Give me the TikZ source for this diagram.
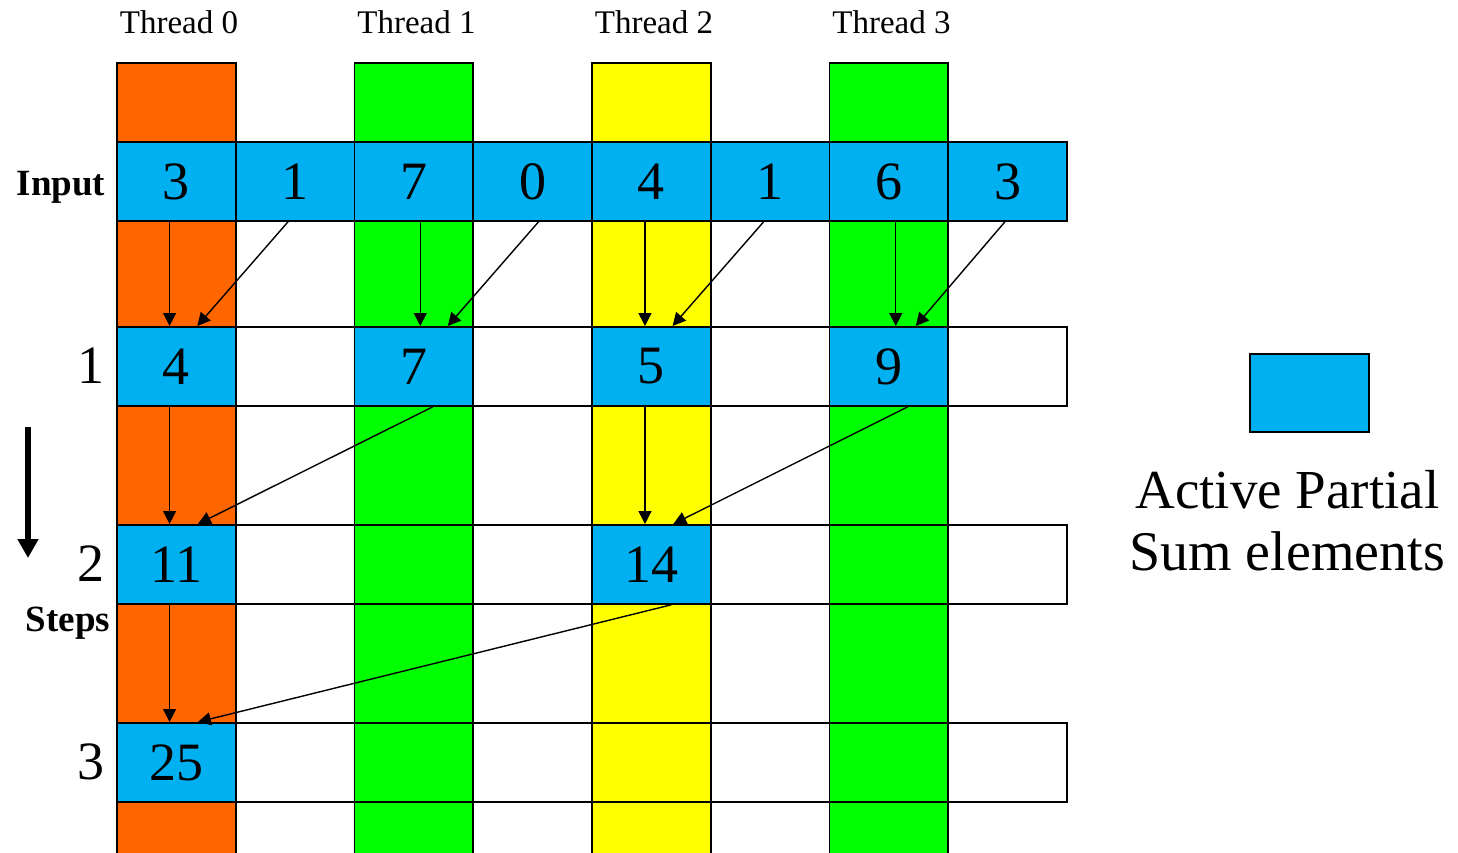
\documentclass[tikz,border=0pt]{standalone}
\usepackage{fontspec}
\setmainfont{Liberation Serif}
\usepackage{xcolor}
\usepackage{tikz}
\usetikzlibrary{arrows.meta, positioning}

\definecolor{partial}{HTML}{00B0F0}
\definecolor{laneorange}{HTML}{FF6600}
\definecolor{lanegreen}{HTML}{00FF00}
\definecolor{laneyellow}{HTML}{FFFF00}

\begin{document}
\begin{tikzpicture}[x=1pt, y=-1pt,
    cellbox/.style={draw, line width=1.8pt, minimum width=118.75pt, minimum height=79pt, inner sep=0pt, anchor=north west, font=\fontsize{54}{60}\selectfont},
    activebox/.style={cellbox, fill=partial},
    lanebox/.style={draw, line width=1.8pt, minimum width=118.75pt, minimum height=800pt, inner sep=0pt, anchor=north west},
    sumarrow/.style={-{Triangle[length=13pt, width=13pt]}, line width=1.4pt},
    threadlabel/.style={anchor=base, inner sep=0pt, font=\fontsize{33}{36}\selectfont},
    headlabel/.style={anchor=base, inner sep=0pt, font=\fontsize{37}{40}\selectfont\bfseries},
    stepnum/.style={inner sep=0pt, font=\fontsize{54}{60}\selectfont}]
    \useasboundingbox (0,0) rectangle (1458,852);

    % Thread lanes
    \foreach \t/\c in {0/laneorange, 1/lanegreen, 2/laneyellow, 3/lanegreen} {
        \node[lanebox, fill=\c] (lane\t) at (116+237.5*\t, 62) {};
        \node[threadlabel] (thread\t) at (179+237.5*\t, 33) {Thread \t};
    }

    % Input
    \foreach \v [count=\i from 0] in {3,1,7,0,4,1,6,3}
        \node[activebox] (in\i) at (116+118.75*\i, 141) {\v};
    \node[headlabel] (input) at (61, 195) {Input};

    % Step 1
    \foreach \i/\s/\v in {0/activebox/4, 1/cellbox/{}, 2/activebox/7, 3/cellbox/{},
                          4/activebox/5, 5/cellbox/{}, 6/activebox/9, 7/cellbox/{}}
        \node[\s] (sa\i) at (116+118.75*\i, 326) {\v};
    \node[stepnum] (stepa) at (91, 365.5) {1};

    % Step 2
    \foreach \i/\s/\v in {0/activebox/11, 1/cellbox/{}, 2/cellbox/{}, 3/cellbox/{},
                          4/activebox/14, 5/cellbox/{}, 6/cellbox/{}, 7/cellbox/{}}
        \node[\s] (sb\i) at (116+118.75*\i, 524) {\v};
    \node[stepnum] (stepb) at (91, 563.5) {2};

    % Step 3
    \foreach \i/\s/\v in {0/activebox/25, 1/cellbox/{}, 2/cellbox/{}, 3/cellbox/{},
                          4/cellbox/{}, 5/cellbox/{}, 6/cellbox/{}, 7/cellbox/{}}
        \node[\s] (sc\i) at (116+118.75*\i, 722) {\v};
    \node[stepnum] (stepc) at (91, 761.5) {3};

    % Steps arrow
    \coordinate (stepstop) at (28, 427);
    \coordinate (stepsend) at (28, 558);
    \draw[line width=5.5pt, -{Triangle[length=19pt, width=20pt]}] (stepstop) -- (stepsend);
    \node[headlabel] (steps) at (68, 631) {Steps};

    % Sums into step 1
    \draw[sumarrow] ([xshift=-6.7pt]in0.south) -- ([xshift=-6.7pt]sa0.north);
    \draw[sumarrow] ([xshift=-7pt]in1.south) -- ([xshift=21pt]sa0.north);
    \draw[sumarrow] ([xshift=6.5pt]in2.south) -- ([xshift=6.5pt]sa2.north);
    \draw[sumarrow] ([xshift=6pt]in3.south) -- ([xshift=34pt]sa2.north);
    \draw[sumarrow] ([xshift=-6.3pt]in4.south) -- ([xshift=-6.3pt]sa4.north);
    \draw[sumarrow] ([xshift=-6.4pt]in5.south) -- ([xshift=21.3pt]sa4.north);
    \draw[sumarrow] ([xshift=7pt]in6.south) -- ([xshift=7pt]sa6.north);
    \draw[sumarrow] ([xshift=-2.6pt]in7.south) -- ([xshift=27pt]sa6.north);

    % Sums into step 2
    \draw[sumarrow] ([xshift=-6.7pt]sa0.south) -- ([xshift=-6.7pt]sb0.north);
    \draw[sumarrow] ([xshift=19pt]sa2.south) -- ([xshift=21.6pt]sb0.north);
    \draw[sumarrow] ([xshift=-6.3pt]sa4.south) -- ([xshift=-6.3pt]sb4.north);
    \draw[sumarrow] ([xshift=19pt]sa6.south) -- ([xshift=22pt]sb4.north);

    % Sums into step 3
    \draw[sumarrow] ([xshift=-6.7pt]sb0.south) -- ([xshift=-6.7pt]sc0.north);
    \draw[sumarrow] ([xshift=20pt]sb4.south) -- ([xshift=21.6pt]sc0.north);

    % Legend
    \node[activebox, minimum height=78pt] (legendbox) at (1249, 353) {};
    \node[anchor=base, inner sep=0pt, font=\fontsize{55}{60}\selectfont] (legendtop) at (1287.5, 508) {Active Partial};
    \node[anchor=base, inner sep=0pt, font=\fontsize{56}{60}\selectfont] (legendbot) at (1287, 570) {Sum elements};
\end{tikzpicture}
\end{document}
